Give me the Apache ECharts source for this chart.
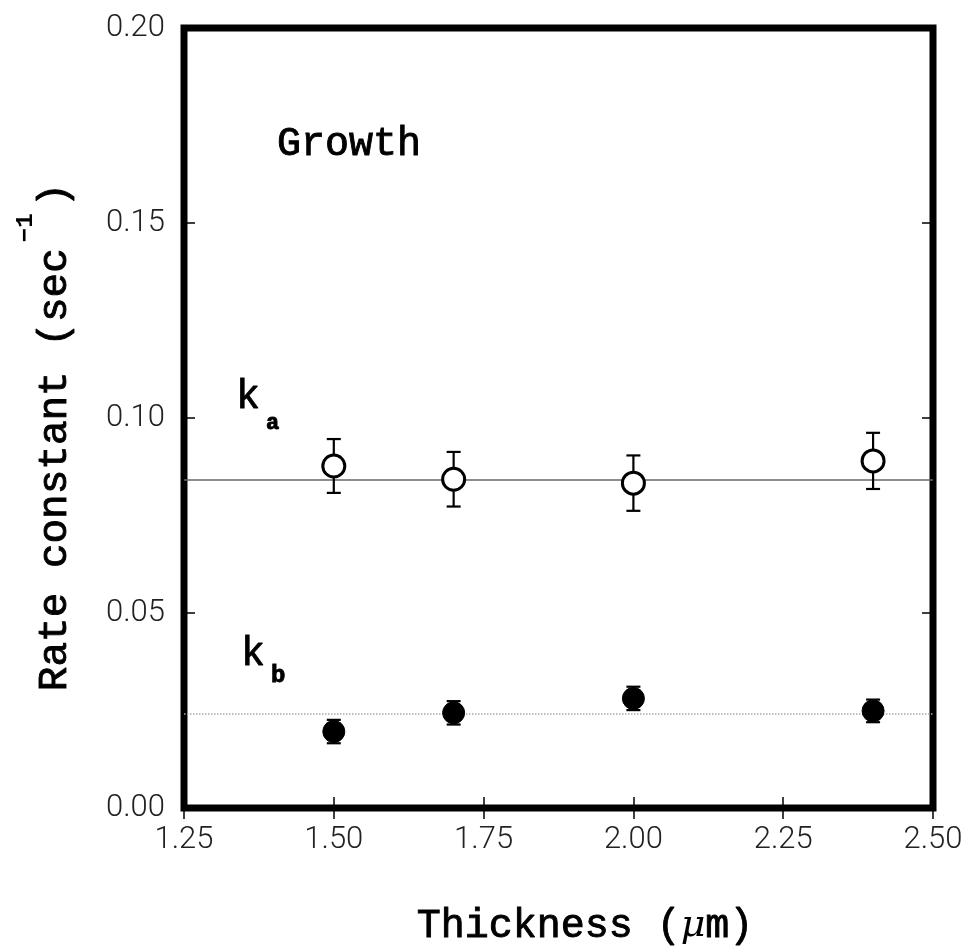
<!DOCTYPE html>
<html>
<head>
<meta charset="utf-8">
<script src="https://cdn.jsdelivr.net/npm/echarts@6/dist/echarts.min.js"></script>
<style>html,body{margin:0;padding:0;background:#fff}#c{width:974px;height:952px}</style>
</head>
<body>
<div id="c"></div>
<script>
// ---- data ----
const thickness = [1.50, 1.70, 2.00, 2.40];
const kaValues = [0.0877, 0.0843, 0.0833, 0.0890];
const kaErrors = [0.0069, 0.0070, 0.0071, 0.0072];
const kbValues = [0.0196, 0.0244, 0.0281, 0.0249];
const kbErrors = [0.0030, 0.0030, 0.0030, 0.0029];
const kaFit = 0.0841;
const kbFit = 0.0241;
const xRange = [1.25, 2.50];
const xStep = 0.25;
const yRange = [0.00, 0.20];
const yStep = 0.05;

const MONO = "'Courier New','Liberation Mono',monospace";
const TICKFONT = "Roboto,'Liberation Sans',sans-serif";

const chart = echarts.init(document.getElementById('c'));

function pts(xs, ys) { return xs.map((x, i) => [x, ys[i]]); }
function errData(xs, ys, es) { return xs.map((x, i) => [x, ys[i] - es[i], ys[i] + es[i]]); }

function errRender(params, api) {
  const x = api.value(0);
  const lo = api.coord([x, api.value(1)]);
  const hi = api.coord([x, api.value(2)]);
  const w = 7;
  const st = { stroke: '#000', lineWidth: 2.2 };
  return {
    type: 'group',
    children: [
      { type: 'line', shape: { x1: lo[0], y1: lo[1], x2: hi[0], y2: hi[1] }, style: st },
      { type: 'line', shape: { x1: lo[0] - w, y1: lo[1], x2: lo[0] + w, y2: lo[1] }, style: st },
      { type: 'line', shape: { x1: hi[0] - w, y1: hi[1], x2: hi[0] + w, y2: hi[1] }, style: st }
    ]
  };
}

const axisCommon = {
  type: 'value',
  axisLine: { show: false },
  splitLine: { show: false },
  axisTick: { show: true, inside: true, length: 11, lineStyle: { color: '#000', width: 1.5 } }
};

const tickLabel = { fontFamily: TICKFONT, fontSize: 31, fontWeight: 300, color: '#222',
  formatter: v => v.toFixed(2) };

const txt = { fill: '#000', stroke: '#000', lineWidth: 0.9, textAlign: 'left', textVerticalAlign: 'middle' };

chart.setOption({
  animation: false,
  backgroundColor: '#fff',
  grid: { left: 184, right: 41, top: 28, bottom: 144, show: true, borderColor: '#000', borderWidth: 7, backgroundColor: 'transparent' },
  xAxis: [
    Object.assign({}, axisCommon, {
      min: xRange[0], max: xRange[1], interval: xStep, position: 'bottom',
      axisLabel: Object.assign({ margin: 17 }, tickLabel)
    }),
    Object.assign({}, axisCommon, {
      min: xRange[0], max: xRange[1], interval: xStep, position: 'top',
      axisLabel: { show: false }
    })
  ],
  yAxis: [
    Object.assign({}, axisCommon, {
      min: yRange[0], max: yRange[1], interval: yStep, position: 'left',
      axisLabel: Object.assign({ margin: 19 }, tickLabel)
    }),
    Object.assign({}, axisCommon, {
      min: yRange[0], max: yRange[1], interval: yStep, position: 'right',
      axisLabel: { show: false }
    })
  ],
  series: [
    { type: 'line', data: [[xRange[0], kaFit], [xRange[1], kaFit]], symbol: 'none',
      lineStyle: { color: '#666', width: 1.5 }, z: 1 },
    { type: 'line', data: [[xRange[0], kbFit], [xRange[1], kbFit]], symbol: 'none',
      lineStyle: { color: '#aaa', width: 1.5, type: 'dotted' }, z: 1 },
    { type: 'custom', data: errData(thickness, kaValues, kaErrors), renderItem: errRender, z: 2 },
    { type: 'custom', data: errData(thickness, kbValues, kbErrors), renderItem: errRender, z: 2 },
    { type: 'scatter', data: pts(thickness, kaValues), symbol: 'circle', symbolSize: 22,
      itemStyle: { color: '#fff', borderColor: '#000', borderWidth: 3, opacity: 1 }, z: 3 },
    { type: 'scatter', data: pts(thickness, kbValues), symbol: 'circle', symbolSize: 22,
      itemStyle: { color: '#000', borderColor: '#000', borderWidth: 1, opacity: 1 }, z: 3 }
  ],
  graphic: [
    { type: 'text', x: 277, y: 144, style: Object.assign({ text: 'Growth', font: `normal 40px ${MONO}` }, txt) },
    { type: 'text', x: 236, y: 397, style: Object.assign({ text: 'k', font: `normal 40px ${MONO}` }, txt) },
    { type: 'text', x: 266, y: 423, style: Object.assign({ text: 'a', font: `bold 22px ${MONO}` }, txt) },
    { type: 'text', x: 241, y: 654, style: Object.assign({ text: 'k', font: `normal 40px ${MONO}` }, txt) },
    { type: 'text', x: 271, y: 676, style: Object.assign({ text: 'b', font: `bold 24px ${MONO}` }, txt) },
    { type: 'text', x: 45, y: 437, rotation: Math.PI / 2,
      style: {
        text: '{a|Rate constant (sec}{s|\u22121}{a|)}',
        textAlign: 'center', textVerticalAlign: 'middle', fill: '#000',
        rich: {
          a: { fontFamily: MONO, fontSize: 41, lineHeight: 44, verticalAlign: 'bottom', fill: '#000', stroke: '#000', lineWidth: 0.9 },
          s: { fontFamily: MONO, fontSize: 24, lineHeight: 62, verticalAlign: 'top', fill: '#000', fontWeight: 'bold', padding: [0, 6, 0, 6] }
        }
      } },
    { type: 'text', x: 585, y: 926,
      style: {
        text: '{a|Thickness (}{m|\u03bc}{a|m)}',
        textAlign: 'center', textVerticalAlign: 'middle', fill: '#000',
        rich: {
          a: { fontFamily: MONO, fontSize: 40, fill: '#000', stroke: '#000', lineWidth: 0.9 },
          m: { fontFamily: "'DejaVu Serif',serif", fontStyle: 'italic', fontSize: 38, fill: '#000' }
        }
      } }
  ]
});
</script>
</body>
</html>
